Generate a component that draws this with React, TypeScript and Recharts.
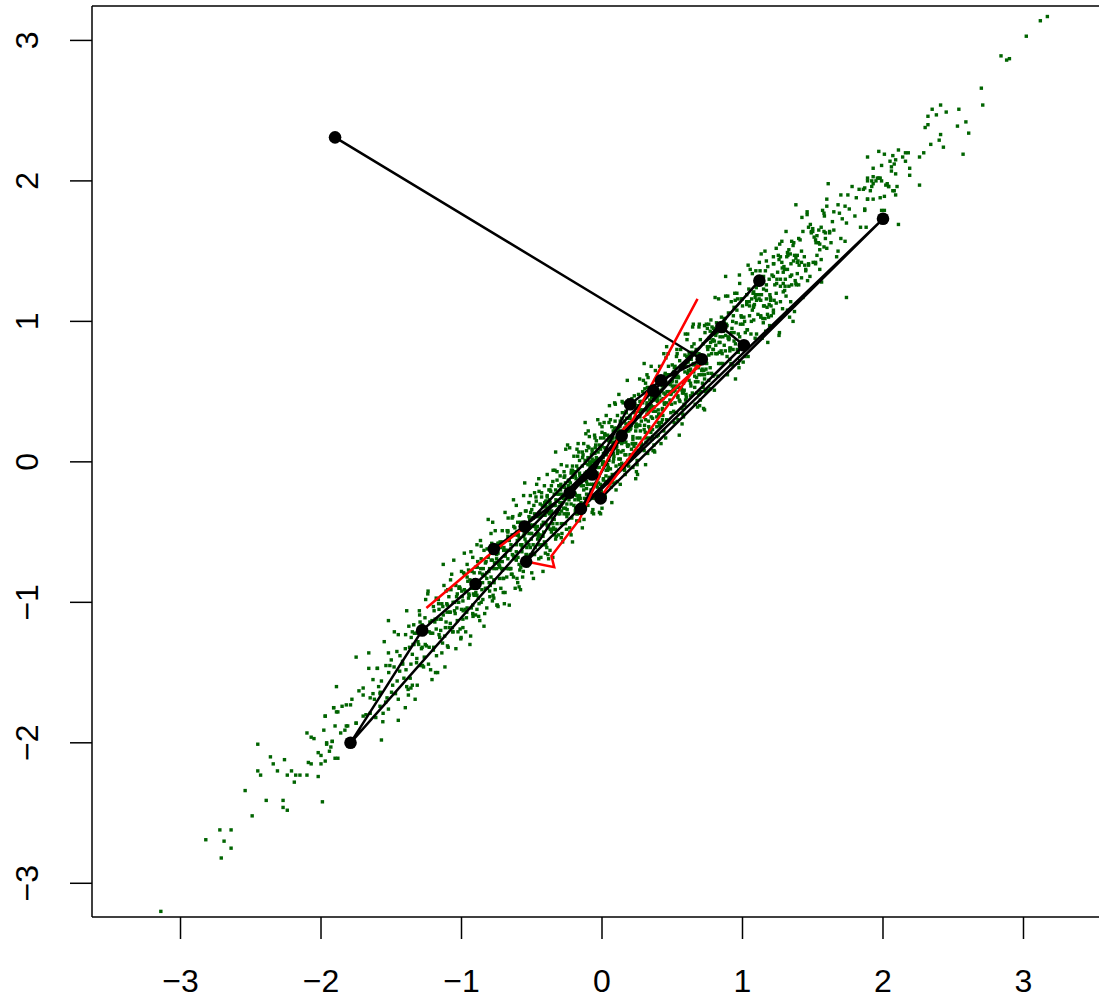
import { ScatterChart, Scatter, XAxis, YAxis, ReferenceLine } from "recharts";

type Pt = [number, number];

const xTicks = [-3, -2, -1, 0, 1, 2, 3];
const yTicks = [-3, -2, -1, 0, 1, 2, 3];

// chain of samples, in visiting order
const samplePath: Pt[] = [
  [-1.9, 2.31], [0.71, 0.73], [0.42, 0.58], [0.2, 0.41], [-0.07, -0.09],
  [-0.77, -0.62], [-0.55, -0.46], [0.365, 0.507], [0.85, 0.96], [1.01, 0.83],
  [-0.54, -0.71], [-0.23, -0.22], [1.12, 1.29], [-1.79, -2.0], [-1.28, -1.2],
  [-0.9, -0.87], [0.14, 0.185], [-0.15, -0.335], [2.0, 1.73], [-0.01, -0.26],
];

// red trajectories
const trajA: Pt[] = [[-0.54, -0.71], [-0.34, -0.75], [-0.36, -0.67], [-0.16, -0.41], [0.0, -0.06], [0.15, 0.23], [0.22, 0.3], [0.68, 1.16]];
const trajB: Pt[] = [[-0.01, -0.25], [0.68, 0.69]];
const trajC: Pt[] = [[0.29, 0.31], [0.71, 0.7]];
const trajD: Pt[] = [[-1.25, -1.04], [-0.8, -0.66], [-0.57, -0.48]];

const cloudLeftTail: Pt[] = [
  [-2.45,-2.01],[-2.36,-2.1],[-2.34,-2.15],[-2.26,-2.12],[-2.45,-2.2],[-2.43,-2.23],[-2.31,-2.2],[-2.24,-2.23],[-2.21,-2.2],[-2.18,-2.23],
  [-2.15,-2.23],[-2.19,-2.28],[-2.1,-2.23],[-2.02,-2.24],[-2.54,-2.34],[-2.39,-2.41],[-2.27,-2.41],[-2.27,-2.46],[-2.24,-2.48],[-1.99,-2.42],
  [-2.49,-2.52],[-2.72,-2.62],[-2.64,-2.62],[-2.82,-2.69],[-2.69,-2.7],[-2.64,-2.75],[-2.71,-2.82],[-3.14,-3.2],
  [-2.1,-1.93],[-2.07,-1.96],[-2.05,-1.97],[-1.98,-1.91],[-1.97,-1.81],[-1.91,-1.75],[-1.89,-1.78],[-1.85,-1.74],[-1.9,-1.88],[-1.83,-1.91],
  [-1.81,-1.88],[-1.96,-2.0],[-1.93,-2.03],[-1.92,-1.99],[-2.02,-2.07],[-2.0,-2.09],[-2.09,-2.14],[-2.07,-2.15],[-2.0,-2.15],[-1.97,-2.13],
  [-1.9,-2.11],[-1.88,-2.11],[-1.75,-1.86],[-1.79,-1.73],
  [-1.52,-1.13],[-1.75,-1.39],[-1.66,-1.36],[-1.89,-1.6],[-1.91,-1.75],[-1.57,-1.98],[-1.45,-1.84],[-1.52,-1.76],[-1.97,-1.81],[-1.88,-1.78],
  [-1.82,-1.73],[-1.78,-1.69],[-1.73,-1.63],[-1.7,-1.61],[-1.63,-1.65],[-1.62,-1.69],[-1.54,-1.71],[-1.58,-1.74],[-1.65,-1.79],[-1.7,-1.81],
  [-1.75,-1.86],[-1.82,-1.88],[-1.86,-1.93],[-1.92,-1.99],[-1.96,-2.01],[-1.94,-2.06],[-1.45,-1.69],[-1.39,-1.6],[-1.35,-1.59],[-1.4,-1.75],
  [-1.36,-1.61],[-1.21,-1.55],
];

const cloudCore: Pt[] = [
  [-1.7,-1.66],[-1.68,-1.8],[-1.66,-1.47],[-1.65,-1.68],[-1.63,-1.55],[-1.61,-1.82],
  [-1.6,-1.47],[-1.58,-1.65],[-1.57,-1.56],[-1.55,-1.28],[-1.53,-1.68],[-1.51,-1.45],[-1.59,-1.6],[-1.56,-1.85],[-1.52,-1.36],
  [-1.5,-1.41],[-1.49,-1.59],[-1.48,-1.46],[-1.47,-1.65],[-1.46,-1.35],[-1.45,-1.23],[-1.44,-1.49],[-1.42,-1.42],[-1.41,-1.54],
  [-1.4,-1.33],[-1.39,-1.06],[-1.38,-1.62],[-1.37,-1.32],[-1.36,-1.44],[-1.35,-1.21],[-1.35,-1.37],[-1.34,-1.16],[-1.33,-1.69],[-1.32,-1.22],[-1.32,-1.43],[-1.31,-1.28],
  [-1.3,-1.06],[-1.29,-1.45],[-1.28,-1.16],[-1.28,-1.32],[-1.27,-1.46],[-1.26,-1.11],[-1.25,-1.31],[-1.24,-0.94],[-1.23,-1.32],[-1.23,-1.21],[-1.22,-1.48],[-1.21,-1.13],
  [-1.2,-1.03],[-1.2,-1.34],[-1.19,-1.14],[-1.18,-1.19],[-1.18,-0.97],[-1.17,-1.5],[-1.16,-1.05],[-1.16,-1.23],[-1.15,-1.12],[-1.14,-1.36],[-1.14,-1.01],[-1.13,-0.73],[-1.13,-1.09],[-1.12,-1.24],[-1.11,-0.92],[-1.11,-1.14],
  [-1.1,-1.02],[-1.1,-1.31],[-1.09,-0.96],[-1.08,-1.15],[-1.08,-1.07],[-1.07,-0.8],[-1.06,-1.21],[-1.06,-1.0],[-1.05,-1.06],[-1.04,-1.33],[-1.04,-0.88],[-1.03,-0.94],[-1.03,-1.13],[-1.02,-1.0],[-1.01,-1.19],[-1.01,-0.9],
  [-1.0,-0.78],[-1.0,-1.05],[-0.99,-0.99],[-0.99,-1.12],[-0.98,-0.91],[-0.98,-0.65],[-0.97,-1.21],[-0.97,-0.92],[-0.96,-1.04],[-0.96,-0.82],[-0.95,-0.97],[-0.95,-0.77],[-0.94,-1.3],[-0.94,-0.84],[-0.93,-1.04],[-0.93,-0.9],[-0.92,-0.68],[-0.92,-1.08],[-0.91,-0.79],[-0.91,-0.95],
  [-0.9,-1.09],[-0.9,-0.75],[-0.89,-0.95],[-0.89,-0.59],[-0.88,-0.97],[-0.88,-0.86],[-0.87,-1.13],[-0.87,-0.79],[-0.86,-0.69],[-0.86,-1.0],[-0.85,-0.8],[-0.85,-0.86],[-0.84,-0.63],[-0.84,-1.17],[-0.83,-0.72],[-0.83,-0.9],[-0.82,-0.79],[-0.82,-1.04],[-0.81,-0.68],[-0.81,-0.41],
  [-0.8,-0.76],[-0.8,-0.92],[-0.79,-0.6],[-0.79,-0.82],[-0.78,-0.7],[-0.78,-0.99],[-0.77,-0.64],[-0.77,-0.84],[-0.77,-0.76],[-0.76,-0.49],[-0.76,-0.91],[-0.75,-0.69],[-0.75,-0.76],[-0.74,-1.03],[-0.74,-0.58],[-0.74,-0.65],[-0.73,-0.83],[-0.73,-0.71],[-0.72,-0.9],[-0.72,-0.61],[-0.71,-0.49],[-0.71,-0.76],[-0.71,-0.71],
  [-0.7,-0.83],[-0.7,-0.63],[-0.69,-0.36],[-0.69,-0.93],[-0.68,-0.63],[-0.68,-0.76],[-0.67,-0.53],[-0.67,-0.69],[-0.67,-0.49],[-0.66,-1.02],[-0.66,-0.56],[-0.65,-0.76],[-0.65,-0.62],[-0.64,-0.4],[-0.64,-0.8],[-0.64,-0.52],[-0.63,-0.67],[-0.63,-0.82],[-0.62,-0.47],[-0.62,-0.68],[-0.61,-0.31],[-0.61,-0.7],[-0.61,-0.59],
  [-0.6,-0.86],[-0.6,-0.52],[-0.6,-0.43],[-0.59,-0.73],[-0.59,-0.54],[-0.58,-0.59],[-0.58,-0.37],[-0.58,-0.91],[-0.57,-0.46],[-0.57,-0.64],[-0.56,-0.53],[-0.56,-0.78],[-0.56,-0.43],[-0.55,-0.15],[-0.55,-0.51],[-0.54,-0.66],[-0.54,-0.35],[-0.54,-0.57],[-0.53,-0.45],[-0.53,-0.74],[-0.52,-0.39],[-0.52,-0.59],[-0.52,-0.51],[-0.51,-0.24],[-0.51,-0.66],[-0.51,-0.45],
  [-0.5,-0.51],[-0.5,-0.79],[-0.5,-0.34],[-0.49,-0.4],[-0.49,-0.59],[-0.48,-0.46],[-0.48,-0.66],[-0.48,-0.37],[-0.47,-0.25],[-0.47,-0.52],[-0.46,-0.46],[-0.46,-0.59],[-0.46,-0.39],[-0.45,-0.12],[-0.45,-0.69],[-0.44,-0.39],[-0.44,-0.52],[-0.44,-0.3],[-0.43,-0.45],[-0.43,-0.25],[-0.42,-0.78],[-0.42,-0.32],[-0.42,-0.53],[-0.41,-0.38],[-0.41,-0.17],[-0.41,-0.57],
  [-0.4,-0.28],[-0.4,-0.44],[-0.4,-0.59],[-0.39,-0.24],[-0.39,-0.45],[-0.39,-0.09],[-0.38,-0.47],[-0.38,-0.36],[-0.37,-0.63],[-0.37,-0.29],[-0.37,-0.2],[-0.36,-0.5],[-0.36,-0.31],[-0.36,-0.37],[-0.35,-0.14],[-0.35,-0.68],[-0.34,-0.23],[-0.34,-0.41],[-0.34,-0.31],[-0.33,-0.55],[-0.33,-0.2],[-0.33,0.07],[-0.32,-0.28],[-0.32,-0.44],[-0.32,-0.13],[-0.31,-0.34],[-0.31,-0.23],[-0.31,-0.52],
  [-0.3,-0.17],[-0.3,-0.37],[-0.3,-0.29],[-0.29,-0.02],[-0.29,-0.44],[-0.29,-0.23],[-0.28,-0.29],[-0.28,-0.57],[-0.27,-0.11],[-0.27,-0.18],[-0.27,-0.37],[-0.26,-0.24],[-0.26,-0.44],[-0.26,-0.15],[-0.25,-0.03],[-0.25,-0.3],[-0.24,-0.24],[-0.24,-0.37],[-0.24,-0.17],[-0.23,0.1],[-0.23,-0.47],[-0.23,-0.18],[-0.22,-0.3],[-0.22,-0.08],[-0.22,-0.24],[-0.21,-0.03],[-0.21,-0.57],[-0.21,-0.11],
  [-0.2,-0.31],[-0.2,-0.17],[-0.2,0.04],[-0.19,-0.35],[-0.19,-0.07],[-0.19,-0.23],[-0.18,-0.37],[-0.18,-0.03],[-0.18,-0.24],[-0.17,0.13],[-0.17,-0.26],[-0.17,-0.15],[-0.16,-0.42],[-0.16,-0.08],[-0.16,0.01],[-0.15,-0.29],[-0.15,-0.1],[-0.15,-0.16],[-0.14,0.07],[-0.14,-0.47],[-0.14,-0.03],[-0.13,-0.2],[-0.13,-0.1],[-0.13,-0.35],[-0.12,0.01],[-0.12,0.28],[-0.12,-0.08],[-0.11,-0.23],[-0.11,0.08],[-0.11,-0.14],
  [-0.1,-0.02],[-0.1,-0.31],[-0.1,0.03],[-0.09,-0.16],[-0.09,-0.08],[-0.09,0.18],[-0.08,-0.23],[-0.08,-0.02],[-0.08,-0.09],[-0.07,-0.36],[-0.07,0.09],[-0.07,0.02],[-0.06,-0.16],[-0.06,-0.04],[-0.06,-0.24],[-0.05,0.06],[-0.05,0.17],[-0.05,-0.1],[-0.04,-0.04],[-0.04,-0.17],[-0.04,0.03],[-0.03,0.3],[-0.03,-0.27],[-0.03,0.02],[-0.02,-0.1],[-0.02,0.12],[-0.02,-0.04],[-0.01,0.17],[-0.01,-0.37],[-0.01,0.09],
  [0.0,0.11],[0.0,-0.33],[0.0,0.21],[0.01,0.0],[0.01,0.06],[0.01,-0.13],[0.02,0.19],[0.02,0.1],[0.02,-0.24],[0.03,0.05],[0.03,-0.06],[0.03,0.33],[0.04,-0.02],[0.04,0.19],[0.04,-0.15],[0.05,0.01],[0.05,0.17],[0.05,-0.11],[0.06,0.3],[0.06,0.09],[0.06,-0.05],[0.07,0.17],[0.07,-0.29],[0.07,0.25],[0.08,0.06],[0.08,0.22],[0.08,0.0],[0.09,0.14],[0.09,-0.15],[0.09,0.42],
  [0.1,0.17],[0.1,-0.03],[0.1,0.1],[0.11,0.06],[0.11,0.33],[0.11,0.22],[0.12,-0.06],[0.12,0.14],[0.12,0.02],[0.13,0.22],[0.13,0.29],[0.13,-0.16],[0.14,0.13],[0.14,0.2],[0.14,-0.01],[0.15,0.42],[0.15,0.16],[0.15,0.08],[0.16,0.29],[0.16,-0.05],[0.16,0.24],[0.17,0.14],[0.17,0.36],[0.17,0.05],[0.18,0.22],[0.18,0.58],[0.18,0.31],[0.19,-0.03],[0.19,0.22],[0.19,0.12],
  [0.2,0.33],[0.2,0.23],[0.2,0.31],[0.21,0.42],[0.21,0.26],[0.21,0.38],[0.22,-0.04],[0.22,0.13],[0.22,0.16],[0.23,0.04],[0.23,0.35],[0.23,0.47],[0.24,0.13],[0.24,-0.12],[0.24,0.22],[0.25,0.17],[0.25,0.01],[0.25,0.32],[0.26,0.26],[0.26,0.48],[0.26,0.08],[0.27,0.17],[0.27,0.43],[0.27,0.26],[0.28,0.13],[0.28,0.29],[0.29,0.42],[0.29,0.37],
  [0.3,0.7],[0.3,0.08],[0.3,0.23],[0.31,-0.02],[0.31,0.3],[0.31,0.17],[0.32,0.4],[0.32,0.34],[0.32,0.62],[0.33,0.48],[0.33,0.29],[0.33,0.17],[0.34,0.37],[0.34,0.44],[0.34,0.52],[0.35,0.49],[0.35,0.4],[0.35,0.68],[0.36,0.23],[0.36,0.31],[0.36,0.47],[0.37,0.39],[0.37,0.46],[0.37,0.08],[0.38,0.44],[0.38,0.65],[0.39,0.32],[0.39,0.18],
  [0.4,0.28],[0.4,0.37],[0.4,0.19],[0.41,0.34],[0.41,0.68],[0.41,0.47],[0.42,0.13],[0.42,0.51],[0.42,0.44],[0.43,0.54],[0.43,0.38],[0.43,0.3],[0.44,0.77],[0.44,0.49],[0.44,0.58],[0.45,0.63],[0.45,0.55],[0.45,0.48],[0.46,0.3],[0.46,0.42],[0.47,0.62],[0.47,0.77],[0.48,0.5],[0.48,0.56],[0.49,0.35],[0.49,0.48],
  [0.5,0.54],[0.5,0.69],[0.5,0.58],[0.51,0.64],[0.51,0.52],[0.51,0.36],[0.52,0.51],[0.52,0.68],[0.52,0.42],[0.53,0.35],[0.53,0.75],[0.53,0.53],[0.54,0.61],[0.54,0.3],[0.54,0.46],[0.55,0.53],[0.55,0.19],[0.55,0.44],[0.56,0.8],[0.56,0.68],[0.57,0.38],[0.57,0.51],[0.58,0.49],[0.58,0.32],[0.59,0.76],[0.59,0.64],
  [0.6,0.46],[0.6,0.68],[0.61,0.63],[0.61,0.91],[0.62,0.77],[0.62,0.58],[0.63,0.47],[0.63,0.66],[0.63,0.73],[0.64,0.82],[0.64,0.78],[0.65,0.7],[0.65,0.98],[0.66,0.53],[0.66,0.61],[0.66,0.77],[0.67,0.69],[0.67,0.76],[0.68,0.39],[0.68,0.74],[0.69,0.96],[0.69,0.62],[0.69,0.48],
  [0.7,0.87],[0.7,0.44],[0.71,0.62],[0.71,0.65],[0.72,0.53],[0.72,0.84],[0.73,0.97],[0.73,0.62],[0.73,0.37],[0.74,0.72],[0.74,0.66],[0.75,0.51],[0.75,0.82],[0.76,0.76],[0.76,0.98],[0.76,0.58],[0.77,0.67],[0.77,0.93],[0.78,0.77],[0.78,0.63],[0.79,0.8],[0.79,0.92],[0.79,0.87],
  [0.8,0.86],[0.8,0.51],[0.81,0.9],[0.81,0.83],[0.82,0.93],[0.82,0.77],[0.83,0.7],[0.83,1.16],[0.84,0.89],[0.84,0.98],[0.85,1.03],[0.85,0.95],[0.86,0.89],[0.86,0.7],[0.87,0.83],[0.87,1.02],[0.88,1.18],[0.88,0.9],[0.89,0.97],[0.89,0.75],
  [0.9,0.89],[0.9,1.06],[0.91,0.81],[0.91,0.73],[0.92,1.14],[0.92,0.92],[0.93,1.0],[0.93,0.69],[0.94,0.86],[0.94,0.92],[0.95,0.59],[0.95,0.84],[0.96,1.2],[0.96,1.08],[0.97,0.78],[0.97,0.91],[0.98,0.89],[0.98,0.72],[0.99,1.16],[0.99,1.04],
  [1.0,1.11],[1.01,0.83],[1.01,1.03],[1.02,0.92],[1.03,1.12],[1.03,1.19],[1.04,0.75],[1.05,1.04],[1.05,1.11],[1.06,0.91],[1.07,1.34],[1.07,1.08],[1.08,1.01],[1.08,1.21],[1.09,0.88],[1.09,1.17],
  [1.1,0.91],[1.11,1.26],[1.11,1.05],[1.12,1.42],[1.13,1.04],[1.13,1.15],[1.14,0.88],[1.15,1.23],[1.15,1.32],[1.16,1.02],[1.17,1.22],[1.17,1.16],[1.18,1.39],[1.18,0.85],[1.19,1.3],[1.19,1.12],
  [1.2,1.16],[1.21,1.33],[1.22,1.06],[1.22,1.46],[1.23,1.26],[1.24,1.13],[1.25,1.35],[1.26,0.9],[1.26,1.44],[1.27,1.25],[1.28,1.42],[1.29,1.21],
  [1.3,1.37],[1.31,1.64],[1.32,1.08],[1.32,1.37],[1.33,1.25],[1.34,1.48],[1.35,1.33],[1.36,1.54],[1.36,1.0],[1.37,1.47],[1.38,1.27],[1.39,1.42],
  [1.4,1.26],[1.41,1.58],[1.42,1.5],[1.43,1.17],[1.44,1.46],[1.45,1.36],[1.46,1.76],[1.47,1.41],[1.49,1.64],
  [1.5,1.66],[1.51,1.6],[1.52,1.42],[1.54,1.56],[1.55,1.37],[1.56,1.67],[1.57,1.79],[1.58,1.53],[1.59,1.59],
  [1.6,1.87],[1.62,1.63],[1.63,1.56],[1.65,1.78],[1.67,1.46],[1.69,1.77],
];

// second, denser pass over the middle of the cloud
const cloudCoreInner: Pt[] = [
  [-1.395,-1.48],[-1.375,-1.17],[-1.365,-1.54],[-1.345,-1.3],[-1.335,-1.22],[-1.315,-1.59],[-1.305,-1.3],
  [-1.295,-1.14],[-1.285,-1.33],[-1.265,-1.39],[-1.255,-0.98],[-1.235,-1.44],[-1.225,-1.14],[-1.205,-1.22],
  [-1.195,-1.06],[-1.185,-1.5],[-1.175,-1.12],[-1.165,-0.98],[-1.155,-1.25],[-1.145,-1.12],[-1.135,-1.29],[-1.125,-0.88],[-1.115,-1.18],[-1.105,-1.01],
  [-1.095,-1.32],[-1.085,-1.07],[-1.075,-0.91],[-1.065,-1.18],[-1.055,-0.7],[-1.045,-1.08],[-1.035,-0.96],[-1.025,-1.21],[-1.015,-0.89],[-1.005,-1.26],
  [-0.995,-0.96],[-0.985,-0.79],[-0.975,-1.05],[-0.965,-1.11],[-0.955,-0.85],[-0.945,-0.95],[-0.935,-1.24],[-0.925,-0.78],[-0.915,-0.94],[-0.905,-0.84],[-0.99,-1.18],[-0.96,-0.73],[-0.92,-1.02],
  [-0.895,-0.85],[-0.885,-0.71],[-0.875,-1.01],[-0.865,-0.56],[-0.855,-0.91],[-0.845,-0.76],[-0.835,-1.08],[-0.825,-0.71],[-0.815,-0.9],[-0.805,-0.78],[-0.89,-1.05],[-0.86,-0.6],[-0.82,-0.83],
  [-0.795,-0.88],[-0.785,-0.58],[-0.775,-0.95],[-0.765,-0.72],[-0.755,-0.64],[-0.745,-1.02],[-0.735,-0.73],[-0.725,-0.57],[-0.715,-0.76],[-0.705,-0.83],[-0.79,-0.51],[-0.77,-0.97],[-0.75,-0.66],[-0.73,-0.74],[-0.71,-0.57],
  [-0.695,-1.01],[-0.685,-0.63],[-0.675,-0.49],[-0.665,-0.76],[-0.655,-0.63],[-0.645,-0.8],[-0.635,-0.39],[-0.625,-0.69],[-0.615,-0.52],[-0.605,-0.83],[-0.69,-0.67],[-0.67,-0.5],[-0.65,-0.76],[-0.63,-0.27],[-0.61,-0.64],
  [-0.595,-0.52],[-0.585,-0.77],[-0.575,-0.45],[-0.565,-0.82],[-0.555,-0.52],[-0.545,-0.35],[-0.535,-0.61],[-0.525,-0.67],[-0.515,-0.41],[-0.505,-0.51],[-0.59,-0.89],[-0.58,-0.43],[-0.57,-0.59],[-0.55,-0.48],[-0.53,-0.72],[-0.52,-0.29],[-0.51,-0.61],
  [-0.495,-0.45],[-0.485,-0.31],[-0.475,-0.61],[-0.465,-0.16],[-0.455,-0.51],[-0.445,-0.36],[-0.435,-0.68],[-0.425,-0.31],[-0.415,-0.5],[-0.405,-0.38],[-0.49,-0.65],[-0.48,-0.22],[-0.47,-0.48],[-0.45,-0.53],[-0.43,-0.22],[-0.42,-0.59],[-0.41,-0.36],
  [-0.395,-0.28],[-0.385,-0.66],[-0.375,-0.37],[-0.365,-0.21],[-0.355,-0.4],[-0.345,-0.47],[-0.335,-0.06],[-0.325,-0.53],[-0.315,-0.23],[-0.305,-0.32],[-0.39,-0.25],[-0.38,-0.69],[-0.37,-0.31],[-0.36,-0.17],[-0.35,-0.44],[-0.34,-0.31],[-0.33,-0.48],[-0.32,-0.07],[-0.31,-0.37],
  [-0.295,-0.2],[-0.285,-0.51],[-0.275,-0.26],[-0.265,-0.1],[-0.255,-0.37],[-0.245,0.12],[-0.235,-0.27],[-0.225,-0.15],[-0.215,-0.4],[-0.205,-0.08],[-0.29,-0.54],[-0.28,-0.24],[-0.27,-0.07],[-0.26,-0.33],[-0.25,-0.39],[-0.24,-0.13],[-0.23,-0.23],[-0.22,-0.52],[-0.21,-0.06],
  [-0.195,-0.22],[-0.185,-0.12],[-0.175,-0.37],[-0.165,0.07],[-0.155,-0.26],[-0.145,-0.1],[-0.135,0.05],[-0.125,-0.26],[-0.115,0.2],[-0.105,-0.16],[-0.19,-0.1],[-0.18,-0.42],[-0.17,-0.05],[-0.16,-0.24],[-0.15,-0.12],[-0.14,-0.3],[-0.13,0.13],[-0.12,-0.13],[-0.11,-0.19],[-0.1,0.11],
  [-0.095,-0.27],[-0.085,-0.04],[-0.075,0.05],[-0.065,-0.34],[-0.055,-0.05],[-0.045,0.12],[-0.035,-0.08],[-0.025,-0.15],[-0.015,0.27],[-0.005,-0.21],[-0.09,0.0],[-0.08,-0.09],[-0.07,0.07],[-0.06,-0.37],[-0.05,0.01],[-0.04,0.15],[-0.03,-0.12],[-0.02,0.01],[-0.01,-0.16],[0.0,0.25],
  [0.005,0.0],[0.015,0.28],[0.025,-0.14],[0.035,0.07],[0.045,-0.04],[0.055,0.18],[0.065,-0.18],[0.075,0.17],[0.085,0.04],[0.095,0.41],[0.01,-0.12],[0.02,0.2],[0.03,0.08],[0.04,-0.06],[0.05,0.28],[0.06,-0.13],[0.07,0.14],[0.08,0.06],[0.09,0.24],[0.1,-0.2],
  [0.105,0.11],[0.115,0.23],[0.125,-0.02],[0.135,0.07],[0.145,0.35],[0.155,0.2],[0.165,-0.09],[0.175,0.31],[0.185,0.01],[0.195,0.28],[0.11,0.08],[0.12,0.48],[0.13,0.02],[0.14,0.31],[0.15,0.17],[0.16,-0.06],[0.17,0.27],[0.18,0.12],[0.19,0.44],[0.2,0.05],
  [0.205,0.24],[0.215,0.13],[0.225,0.42],[0.235,0.3],[0.245,-0.07],[0.255,0.4],[0.265,0.26],[0.275,0.37],[0.285,0.09],[0.295,0.58],[0.21,0.09],[0.22,0.18],[0.23,0.39],[0.24,0.25],[0.25,-0.02],[0.26,0.38],[0.27,0.32],[0.28,0.11],[0.29,0.5],
  [0.305,0.52],[0.315,0.37],[0.325,0.06],[0.335,0.5],[0.345,0.23],[0.355,0.16],[0.365,0.36],[0.375,0.07],[0.385,0.58],[0.395,0.43],[0.31,0.56],[0.32,0.42],[0.33,0.35],[0.34,0.23],[0.35,0.32],[0.36,0.18],[0.37,0.12],[0.38,0.58],[0.39,0.25],
  [0.405,0.33],[0.415,0.25],[0.425,0.55],[0.435,0.45],[0.445,0.41],[0.455,0.74],[0.465,0.56],[0.475,0.62],[0.485,0.55],[0.495,0.41],[0.41,0.26],[0.43,0.37],[0.44,0.22],[0.45,0.62],[0.46,0.82],[0.48,0.56],[0.49,0.62],
  [0.505,0.51],[0.515,0.67],[0.525,0.6],[0.535,0.77],[0.545,0.6],[0.555,0.43],[0.565,0.52],[0.575,0.34],[0.585,0.51],[0.595,0.44],[0.51,0.5],[0.53,0.57],[0.54,0.47],[0.56,0.67],[0.57,0.27],[0.58,0.56],[0.59,0.4],
  [0.605,0.87],[0.615,0.65],[0.625,0.75],[0.635,0.73],[0.645,0.96],[0.655,0.84],[0.665,0.57],[0.675,0.49],[0.685,0.67],[0.695,0.4],[0.61,0.72],[0.63,0.56],[0.65,0.69],[0.67,0.8],[0.69,0.77],
  [0.705,0.7],[0.715,0.56],[0.725,0.65],[0.735,0.5],[0.745,0.7],[0.755,0.63],[0.765,0.82],[0.775,1.01],[0.785,0.86],[0.795,0.95],[0.71,0.71],[0.73,0.59],[0.75,0.95],[0.77,0.52],[0.79,0.61],
  [0.805,1.17],[0.815,0.99],[0.825,0.61],[0.835,0.78],[0.845,0.7],[0.855,0.77],[0.865,0.93],[0.875,1.02],[0.885,0.98],[0.895,1.18],[0.81,0.77],[0.84,0.85],[0.87,0.99],
  [0.905,0.88],[0.915,0.81],[0.925,0.95],[0.935,1.04],[0.945,1.2],[0.955,0.99],[0.965,1.16],[0.975,0.67],[0.985,0.98],[0.995,0.8],[0.91,0.79],[0.94,1.1],[0.97,0.7],
  [1.005,0.71],[1.015,1.0],[1.025,0.84],[1.035,0.94],[1.045,1.23],[1.055,1.37],[1.065,1.16],[1.075,1.2],[1.085,1.12],[1.095,1.36],
  [1.105,1.26],[1.115,1.19],[1.125,1.36],[1.135,1.19],[1.145,1.02],[1.155,1.11],[1.165,0.93],[1.175,1.1],[1.185,1.03],[1.195,1.19],
  [1.205,1.04],[1.225,1.15],[1.245,1.3],[1.255,1.47],[1.265,1.55],[1.285,1.09],[1.295,1.39],
  [1.305,1.3],[1.315,1.46],[1.335,1.03],[1.345,1.41],[1.365,1.56],[1.375,1.29],[1.395,1.43],
];

// third pass, fills the dense band further
const cloudCoreFill: Pt[] = [
  [-1.598,-1.47],[-1.578,-1.64],[-1.558,-1.79],[-1.538,-1.45],[-1.518,-1.5],
  [-1.498,-1.64],[-1.478,-1.21],[-1.458,-1.56],[-1.438,-1.38],[-1.418,-1.44],
  [-1.398,-1.23],[-1.378,-1.66],[-1.358,-1.25],[-1.338,-1.3],[-1.318,-1.4],
  [-1.298,-1.09],[-1.278,-1.45],[-1.258,-1.3],[-1.238,-0.92],[-1.218,-1.22],
  [-1.198,-1.32],[-1.188,-1.12],[-1.178,-1.38],[-1.163,-1.01],[-1.148,-1.2],[-1.133,-1.03],[-1.118,-1.46],[-1.103,-1.07],
  [-1.098,-0.91],[-1.088,-1.18],[-1.078,-0.84],[-1.063,-1.21],[-1.048,-1.0],[-1.033,-1.04],[-1.018,-0.9],[-1.003,-1.25],
  [-0.998,-0.92],[-0.988,-1.06],[-0.978,-0.8],[-0.963,-1.07],[-0.948,-0.94],[-0.933,-0.64],[-0.918,-1.1],[-0.903,-0.84],
  [-0.898,-0.93],[-0.888,-0.75],[-0.878,-1.1],[-0.863,-0.76],[-0.848,-0.98],[-0.833,-0.81],[-0.818,-0.62],[-0.803,-0.86],
  [-0.798,-0.96],[-0.788,-0.7],[-0.778,-0.43],[-0.768,-0.86],[-0.758,-0.72],[-0.748,-1.02],[-0.738,-0.58],[-0.728,-0.75],[-0.718,-0.59],[-0.708,-0.77],[-0.703,-0.93],
  [-0.698,-0.61],[-0.688,-0.67],[-0.678,-0.82],[-0.668,-0.4],[-0.658,-0.76],[-0.648,-0.59],[-0.638,-0.66],[-0.628,-0.46],[-0.618,-0.9],[-0.608,-0.5],[-0.603,-0.56],
  [-0.598,-0.68],[-0.588,-0.38],[-0.578,-0.75],[-0.568,-0.61],[-0.558,-0.24],[-0.548,-0.55],[-0.538,-0.66],[-0.528,-0.46],[-0.518,-0.72],[-0.508,-0.36],[-0.503,-0.55],
  [-0.498,-0.4],[-0.488,-0.83],[-0.478,-0.45],[-0.468,-0.28],[-0.458,-0.55],[-0.448,-0.21],[-0.438,-0.59],[-0.428,-0.38],[-0.418,-0.43],[-0.408,-0.29],[-0.403,-0.65],
  [-0.398,-0.32],[-0.388,-0.46],[-0.378,-0.2],[-0.368,-0.48],[-0.358,-0.35],[-0.348,-0.06],[-0.338,-0.52],[-0.328,-0.27],[-0.318,-0.35],[-0.308,-0.17],[-0.393,-0.61],[-0.373,-0.27],[-0.353,-0.48],[-0.333,-0.31],
  [-0.298,-0.1],[-0.288,-0.35],[-0.278,-0.44],[-0.268,-0.18],[-0.258,0.09],[-0.248,-0.34],[-0.238,-0.2],[-0.228,-0.5],[-0.218,-0.06],[-0.208,-0.23],[-0.293,-0.16],[-0.273,-0.33],[-0.253,-0.48],[-0.233,-0.14],
  [-0.198,-0.18],[-0.188,-0.33],[-0.178,0.09],[-0.168,-0.27],[-0.158,-0.1],[-0.148,-0.17],[-0.138,0.03],[-0.128,-0.41],[-0.118,-0.01],[-0.108,-0.07],[-0.193,-0.27],[-0.173,0.04],[-0.153,-0.32],[-0.133,-0.17],
  [-0.098,0.22],[-0.088,-0.09],[-0.078,-0.2],[-0.068,0.0],[-0.058,-0.26],[-0.048,0.1],[-0.038,-0.09],[-0.028,0.07],[-0.018,-0.36],[-0.008,0.02],[-0.093,0.1],[-0.073,-0.16],[-0.053,0.19],[-0.033,-0.18],
  [0.003,-0.02],[0.013,0.17],[0.023,-0.25],[0.033,0.07],[0.043,-0.05],[0.053,0.4],[0.063,0.15],[0.073,-0.09],[0.083,0.02],[0.093,0.29],[0.008,0.03],[0.028,-0.1],[0.048,0.15],[0.068,-0.15],
  [0.103,0.24],[0.113,0.08],[0.123,0.18],[0.133,-0.05],[0.143,0.43],[0.153,0.16],[0.163,0.05],[0.173,0.35],[0.183,0.11],[0.193,0.27],[0.108,-0.14],[0.128,0.25],[0.148,0.14],[0.168,0.22],
  [0.203,0.05],[0.213,0.45],[0.223,0.13],[0.233,0.42],[0.243,0.27],[0.253,-0.09],[0.263,0.36],[0.273,0.22],[0.283,0.43],[0.293,0.09],[0.208,0.28],[0.228,0.11],[0.248,0.25],[0.268,0.59],
  [0.303,0.26],[0.313,0.14],[0.323,0.53],[0.333,0.25],[0.343,0.38],[0.353,0.46],[0.363,0.08],[0.373,0.54],[0.383,0.36],[0.393,0.45],[0.308,0.21],[0.328,0.6],[0.348,0.21],[0.368,0.39],
  [0.403,0.34],[0.413,0.5],[0.423,0.28],[0.433,0.33],[0.443,0.42],[0.453,0.17],[0.463,0.5],[0.473,0.68],[0.483,0.44],[0.493,0.49],[0.498,0.57],
  [0.503,0.63],[0.513,0.28],[0.523,0.54],[0.533,0.8],[0.543,0.6],[0.553,0.72],[0.563,0.67],[0.573,0.49],[0.583,0.41],[0.593,0.91],[0.598,0.48],
  [0.603,0.75],[0.613,0.71],[0.623,0.65],[0.633,0.54],[0.643,0.49],[0.653,0.64],[0.663,0.41],[0.673,0.6],[0.683,0.57],[0.693,0.98],[0.698,0.76],
  [0.703,0.5],[0.713,0.66],[0.723,0.38],[0.733,0.92],[0.743,0.98],[0.753,0.8],[0.763,0.88],[0.773,0.85],[0.783,0.96],[0.793,0.8],[0.798,0.62],
  [0.803,0.94],[0.818,0.92],[0.833,0.85],[0.848,0.79],[0.863,0.95],[0.878,0.79],[0.893,0.62],[0.898,0.88],
  [0.903,0.87],[0.918,0.7],[0.933,0.8],[0.948,1.15],[0.963,0.8],[0.978,1.33],[0.993,1.03],[0.998,1.16],
  [1.003,0.98],[1.018,0.75],[1.033,0.94],[1.048,1.14],[1.063,1.0],[1.078,1.1],[1.093,1.19],[1.098,1.24],
  [1.103,1.26],[1.118,1.16],[1.133,1.48],[1.148,0.99],[1.163,1.36],[1.178,1.05],[1.193,0.97],[1.198,1.17],
  [1.203,1.11],[1.223,1.41],[1.243,1.27],[1.263,0.92],[1.283,1.38],
  [1.303,1.25],[1.323,1.47],[1.343,1.14],[1.363,1.43],[1.383,1.26],
  [1.403,1.4],[1.423,1.74],[1.443,1.4],[1.463,1.29],[1.483,1.69],
  [1.503,1.42],[1.523,1.56],[1.543,1.65],[1.563,1.28],[1.583,1.75],
];

const cloudUpperBand: Pt[] = [
  [1.61,1.98],[1.38,1.83],[1.46,1.78],[1.58,1.77],[1.6,1.82],[1.64,1.71],[1.62,1.64],[1.65,1.65],[1.58,1.64],[1.59,1.63],
  [1.53,1.61],[1.5,1.64],[1.47,1.67],[1.43,1.64],[1.49,1.63],[1.6,1.52],[1.55,1.55],[1.52,1.58],[1.4,1.59],[1.35,1.57],
  [1.28,1.57],[1.55,1.51],[1.53,1.47],[1.56,1.44],[1.52,1.41],[1.47,1.4],[1.42,1.42],[1.39,1.47],[1.33,1.51],[1.32,1.49],
  [1.24,1.52],[1.17,1.43],[1.22,1.41],[1.27,1.46],[1.38,1.45],[1.45,1.37],[1.48,1.32],[1.42,1.31],[1.39,1.34],[1.29,1.35],
  [1.34,1.32],[1.27,1.3],[1.22,1.32],[1.17,1.26],[1.29,1.27],[1.35,1.26],[1.3,1.22],[1.24,1.2],[1.2,1.15],[1.27,1.14],
  [1.15,1.11],[1.1,1.15],[1.08,1.11],[1.03,1.14],[0.98,1.27],[1.04,1.4],[0.88,1.32],[1.16,1.5],[1.37,1.07],[1.31,1.18],
  [1.22,1.08],[1.13,1.03],
  [1.78,1.96],[1.75,1.9],[1.7,1.9],[1.81,1.88],[1.83,1.94],[1.87,1.95],[1.89,1.87],[1.73,1.82],[1.76,1.8],[1.68,1.83],
  [1.87,1.79],[1.8,1.75],[1.84,1.67],[1.88,1.67],[1.71,1.73],[1.74,1.7],[1.7,1.59],[1.73,1.57],[1.68,1.5],[1.74,1.17],
  [2.11,1.69],
];

const cloudRightTail: Pt[] = [
  [3.17,3.17],[3.12,3.14],[3.02,3.03],[2.84,2.89],[2.88,2.86],[2.9,2.87],[2.7,2.66],[2.71,2.54],[2.41,2.54],[2.35,2.51],
  [2.45,2.49],[2.38,2.47],[2.54,2.51],[2.32,2.46],[2.32,2.4],[2.3,2.38],[2.53,2.39],[2.59,2.42],[2.61,2.34],[2.41,2.33],
  [2.4,2.29],[2.34,2.26],[2.43,2.24],[2.57,2.19],[2.29,2.2],[2.26,2.17],[2.18,2.2],[2.16,2.2],[2.11,2.22],[2.14,2.17],
  [2.16,2.14],[2.19,2.09],[2.19,2.04],[2.26,1.97],[1.89,2.17],[1.97,2.21],[2.01,2.19],[2.07,2.18],[2.05,2.14],[2.09,2.15],
  [2.08,2.12],[2.06,2.1],[1.99,2.11],[1.93,2.09],[2.06,2.07],[2.09,2.05],[1.89,2.02],[1.89,2.0],[1.92,2.0],[1.96,2.02],
  [1.98,2.02],[1.95,2.0],[1.99,2.0],[1.93,1.98],[2.03,1.98],[2.02,1.97],[2.04,1.96],[2.1,1.96],[1.92,1.96],[1.86,1.94],
  [1.91,1.93],[2.08,1.93],[1.89,1.87],[1.93,1.87],[1.98,1.88],[2.01,1.89],[2.09,1.9],[1.87,1.8],[1.99,1.79],[2.01,1.79],
  [1.93,2.03],[1.97,2.02],[2.04,1.96],[2.07,1.93],
];

const toPts = (a: Pt[]) => a.map(([x, y]) => ({ x, y }));
const cloud = toPts([...cloudLeftTail, ...cloudCore, ...cloudCoreInner, ...cloudCoreFill, ...cloudUpperBand, ...cloudRightTail]);

const FONT = '"Liberation Sans", Arial, Helvetica, sans-serif';
const fmt = (v: number) => (v < 0 ? "\u2212" + Math.abs(v) : String(v));

const XTick = ({ x, payload }: any) => (
  <text x={x} y={992} textAnchor="middle" fontSize={32} fontFamily={FONT} fill="#000">
    {fmt(payload.value)}
  </text>
);

const YTick = ({ y, payload }: any) => (
  <text x={38} y={y} transform={`rotate(-90 38 ${y})`} textAnchor="middle" fontSize={32} fontFamily={FONT} fill="#000">
    {fmt(payload.value)}
  </text>
);

const Square = (p: any) => <rect x={p.cx - 1.7} y={p.cy - 1.7} width={3.4} height={3.4} fill="#006400" />;
const BigDot = (p: any) => <circle cx={p.cx} cy={p.cy} r={6.3} fill="#000" />;
const NoShape = () => <g />;

export default function App() {
  return (
    <div style={{ position: "absolute", left: 0, top: 0, width: 1099, height: 1000, overflow: "hidden", background: "#fff" }}>
      <ScatterChart width={1120} height={1000} margin={{ top: 6, right: 8, bottom: 0, left: 0 }}>
        <XAxis
          type="number"
          dataKey="x"
          domain={[-3.63, 3.63]}
          ticks={xTicks}
          allowDataOverflow
          height={83}
          tickSize={22}
          tick={<XTick />}
          axisLine={{ stroke: "#000", strokeWidth: 1.5 }}
          tickLine={{ stroke: "#000", strokeWidth: 1.5 }}
        />
        <YAxis
          type="number"
          dataKey="y"
          domain={[-3.24, 3.245]}
          ticks={yTicks}
          allowDataOverflow
          width={92}
          tickSize={22}
          tick={<YTick />}
          axisLine={{ stroke: "#000", strokeWidth: 1.5 }}
          tickLine={{ stroke: "#000", strokeWidth: 1.5 }}
        />
        <ReferenceLine y={3.245} stroke="#000" strokeWidth={1.5} />
        <Scatter data={cloud} shape={Square} isAnimationActive={false} />
        <Scatter data={toPts(samplePath)} shape={NoShape} line={{ stroke: "#000", strokeWidth: 2.5 }} isAnimationActive={false} />
        {[trajA, trajB, trajC, trajD].map((t, i) => (
          <Scatter key={i} data={toPts(t)} shape={NoShape} line={{ stroke: "#ff0000", strokeWidth: 2.5 }} isAnimationActive={false} />
        ))}
        <Scatter data={toPts(samplePath)} shape={BigDot} isAnimationActive={false} />
      </ScatterChart>
    </div>
  );
}
